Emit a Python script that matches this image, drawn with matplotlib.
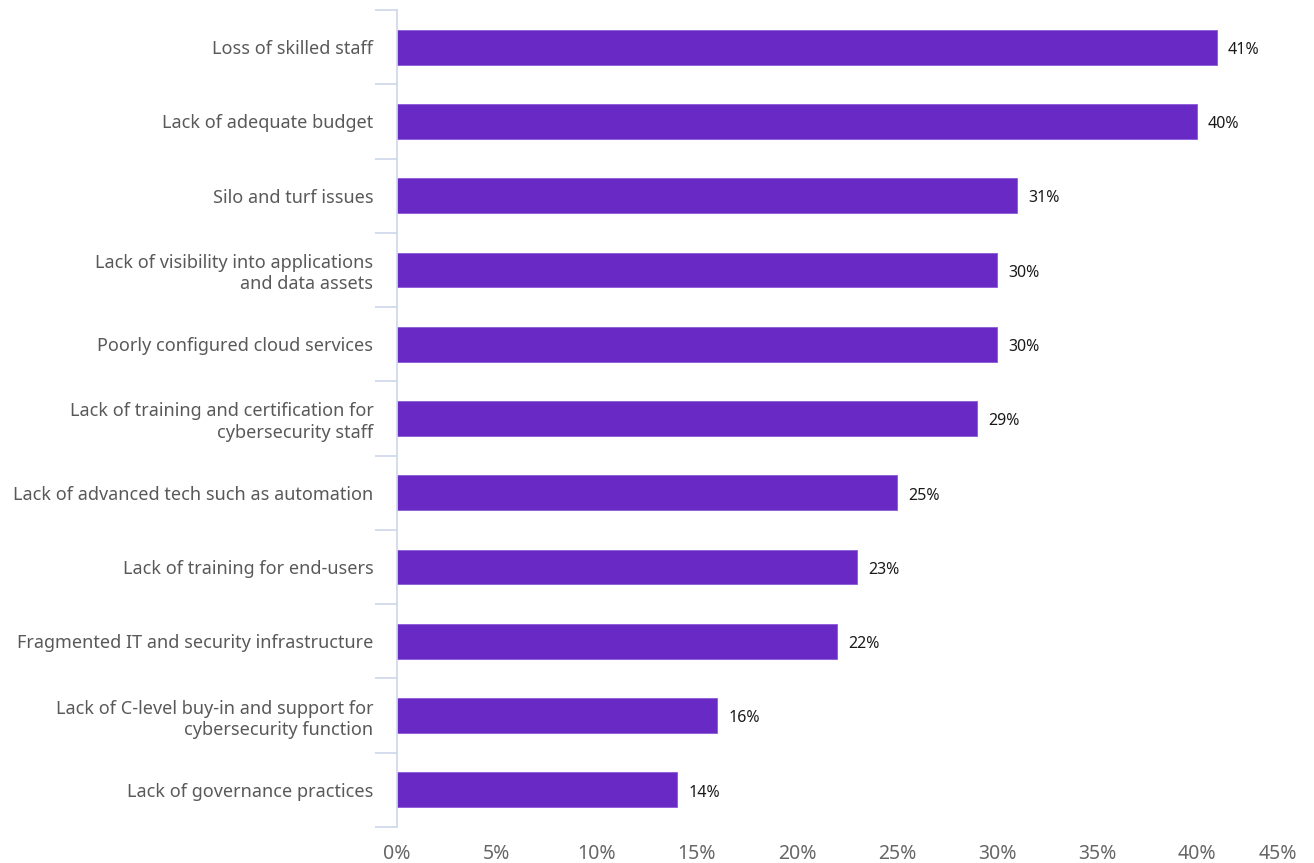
import matplotlib
matplotlib.use("Agg")
import matplotlib.pyplot as plt
from matplotlib.ticker import FixedLocator, FuncFormatter

categories = [
    "Loss of skilled staff",
    "Lack of adequate budget",
    "Silo and turf issues",
    "Lack of visibility into applications\nand data assets",
    "Poorly configured cloud services",
    "Lack of training and certification for\ncybersecurity staff",
    "Lack of advanced tech such as automation",
    "Lack of training for end-users",
    "Fragmented IT and security infrastructure",
    "Lack of C-level buy-in and support for\ncybersecurity function",
    "Lack of governance practices",
]
values = [41, 40, 31, 30, 30, 29, 25, 23, 22, 16, 14]
x_ticks = [0, 5, 10, 15, 20, 25, 30, 35, 40, 45]

plt.rcParams["font.family"] = ["Noto Sans", "DejaVu Sans"]

W, H = 1314, 863
fig = plt.figure(figsize=(W / 100, H / 100), dpi=100)
ax = fig.add_axes([397 / W, 1 - 827 / H, (1297 - 397) / W, (827 - 10) / H])

n = len(categories)
pos = list(range(n))
ax.barh(pos, values, height=0.47, color="#6929c4", edgecolor="#8a5ad6", linewidth=0.6, zorder=2)

for p, v in zip(pos, values):
    ax.annotate(f"{v}%", xy=(v, p), xytext=(8, -2), textcoords="offset points",
                va="center", ha="left", fontsize=11.5, color="#1a1a1a")

ax.set_xlim(0, 45)
ax.set_ylim(n - 0.5, -0.5)

ax.set_yticks(pos)
ax.set_yticklabels(categories, fontsize=13, color="#595959", linespacing=1.25, ha="right")
ax.yaxis.set_minor_locator(FixedLocator([i - 0.5 for i in range(n + 1)]))
ax.tick_params(axis="y", which="major", length=0, pad=17)
ax.tick_params(axis="y", which="minor", length=16, width=1.2, color="#ccd6eb")

ax.set_xticks(x_ticks)
ax.xaxis.set_major_formatter(FuncFormatter(lambda v, _: f"{v:.0f}%"))
ax.tick_params(axis="x", length=0, labelsize=14, labelcolor="#666666", pad=12)
ax.get_xticklabels()[-1].set_horizontalalignment("right")

for side in ["top", "right", "bottom"]:
    ax.spines[side].set_visible(False)
ax.spines["left"].set_color("#ccd6eb")
ax.spines["left"].set_linewidth(1.2)

fig.savefig("out.png", dpi=100)
